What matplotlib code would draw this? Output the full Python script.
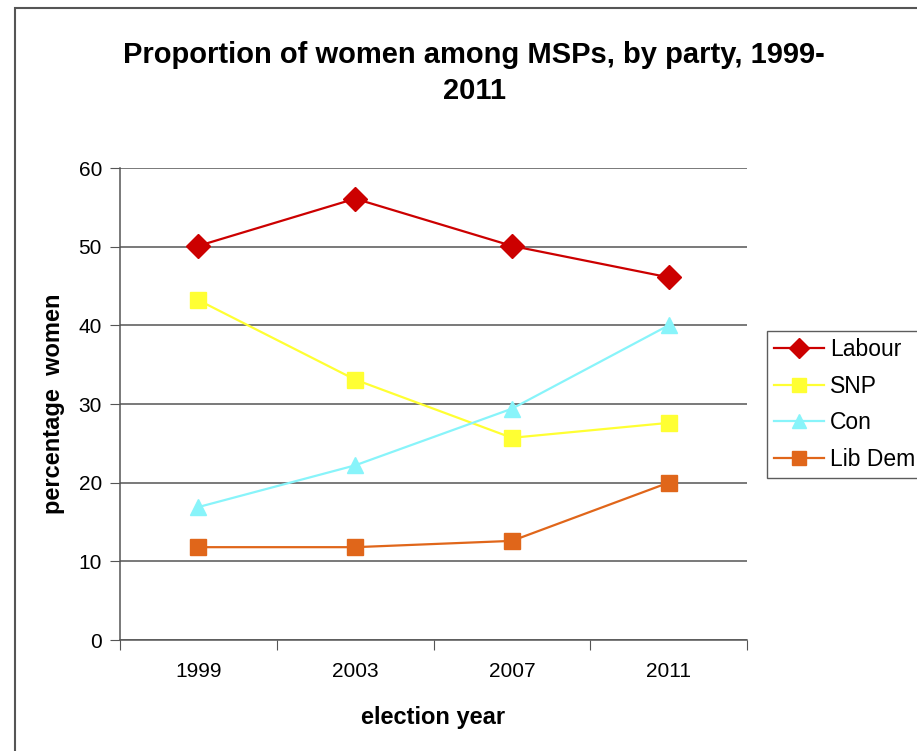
import numpy as np
import matplotlib.pyplot as plt
from matplotlib.patches import Rectangle

plt.rcParams['font.family'] = ['Liberation Sans', 'DejaVu Sans']

years = ['1999', '2003', '2007', '2011']
labour = [50.1, 56.1, 50.1, 46.1]
snp = [43.2, 33.1, 25.7, 27.6]
con = [16.9, 22.2, 29.4, 40.0]
libdem = [11.8, 11.8, 12.6, 20.0]

series = [
    ('Labour', labour, '#CC0000', 'D', 12),
    ('SNP', snp, '#FFFF33', 's', 12),
    ('Con', con, '#88F4FA', '^', 12),
    ('Lib Dem', libdem, '#E0661A', 's', 12),
]

fig = plt.figure(figsize=(9.17, 7.51), dpi=100)
# outer chart frame, runs off the right and bottom of the image
fig.patches.append(Rectangle((15 / 917, -0.05), 1.1, 1 - 8 / 751 + 0.05,
                             transform=fig.transFigure, fill=False,
                             edgecolor='#555555', linewidth=1.5))

ax = fig.add_axes([120 / 917, 1 - 640 / 751, 627 / 917, 472 / 751])
x = np.arange(len(years))
for name, vals, col, mk, ms in series:
    ax.plot(x, vals, color=col, marker=mk, markersize=ms, linewidth=1.6,
            label=name, zorder=3)

ax.set_ylim(0, 60)
ax.set_yticks(np.arange(0, 61, 10))
ax.set_xlim(-0.5, len(years) - 0.5)
ax.set_xticks(np.arange(len(years) + 1) - 0.5)
ax.set_xticklabels([])
ax.set_xticks(x, minor=True)
ax.set_xticklabels(years, minor=True)
ax.tick_params(axis='x', which='minor', length=0, pad=16, labelsize=15)
ax.tick_params(axis='x', which='major', length=7, color='#555555', direction='out')
ax.tick_params(axis='y', length=7, color='#555555', direction='out', labelsize=15, pad=6)

ax.grid(axis='y', color='#555555', linewidth=1.1)
ax.set_axisbelow(True)
for s in ['top', 'right']:
    ax.spines[s].set_visible(False)
for s in ['left', 'bottom']:
    ax.spines[s].set_color('#555555')
    ax.spines[s].set_linewidth(1.1)

ax.set_xlabel('election year', fontsize=17, fontweight='bold', labelpad=18)
ax.set_ylabel('percentage  women', fontsize=17, fontweight='bold', labelpad=10)

fig.text(0.517, 1 - 73 / 751, 'Proportion of women among MSPs, by party, 1999-\n2011',
         ha='center', va='center', fontsize=21, fontweight='bold', linespacing=1.4)

leg = ax.legend(loc='upper left', bbox_to_anchor=(767 / 917, 1 - 331 / 751),
                bbox_transform=fig.transFigure, fontsize=16.5, frameon=True,
                fancybox=False, edgecolor='#333333', handlelength=2.2,
                borderpad=0.3, labelspacing=0.6, handletextpad=0.25,
                markerscale=0.85, borderaxespad=0)
leg.get_frame().set_linewidth(1.0)

fig.savefig('out.png', dpi=100)
